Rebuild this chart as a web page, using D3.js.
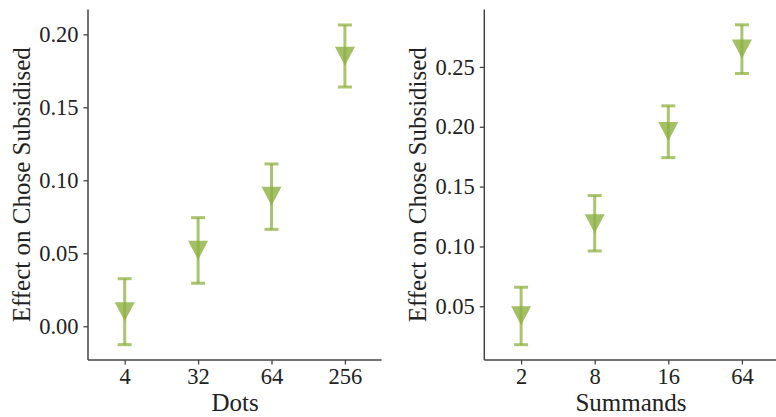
<!DOCTYPE html>
<html>
<head>
<meta charset="utf-8">
<script src="https://cdn.jsdelivr.net/npm/d3@7"></script>
<style>
  body { margin: 0; background: #fff; }
  .axis text { font-family: "Liberation Serif", serif; font-size: 22.5px; fill: #222; }
  .axis line, .axis path { stroke: #444; stroke-width: 1.3; }
  .lab { font-family: "Liberation Serif", serif; font-size: 25px; fill: #222; }
</style>
</head>
<body>
<div id="chart"></div>
<script>
// data
var dotsCats = ["4", "32", "64", "256"];
var dotsMean = [0.010, 0.052, 0.089, 0.185];
var dotsLo   = [-0.0126, 0.0295, 0.0664, 0.1639];
var dotsHi   = [0.0326, 0.0744, 0.1112, 0.2064];
var dotsTicks = [0.00, 0.05, 0.10, 0.15, 0.20];

var sumCats = ["2", "8", "16", "64"];
var sumMean = [0.042, 0.119, 0.196, 0.265];
var sumLo   = [0.0179, 0.0962, 0.1742, 0.2445];
var sumHi   = [0.0659, 0.1425, 0.2175, 0.2852];
var sumTicks = [0.05, 0.10, 0.15, 0.20, 0.25];

var W = 776, H = 417;
var yTop = 9.5, yBottom = 360;
var barColor = "#8db040";

var svg = d3.select("#chart").append("svg")
    .attr("width", W)
    .attr("height", H);

var panels = [
  {cats: dotsCats, mean: dotsMean, lo: dotsLo, hi: dotsHi, ticks: dotsTicks,
   ydom: [-0.0231, 0.217], x0: 88, x1: 381.6, xlab: "Dots", xlabX: 235, ylabX: 30},
  {cats: sumCats, mean: sumMean, lo: sumLo, hi: sumHi, ticks: sumTicks,
   ydom: [0.0051, 0.298], x0: 484.3, x1: 778.7, xlab: "Summands", xlabX: 631, ylabX: 426}
];

panels.forEach(function(p) {
  var x = d3.scaleLinear().domain([-0.5, 3.5]).range([p.x0, p.x1]);
  var y = d3.scaleLinear().domain(p.ydom).range([yBottom, yTop]);
  var g = svg.append("g");

  var rows = p.cats.map(function(c, i) {
    return {i: i, cat: c, mean: p.mean[i], lo: p.lo[i], hi: p.hi[i]};
  });

  // x axis
  var xa = g.append("g")
    .attr("class", "axis")
    .attr("transform", "translate(0," + yBottom + ")")
    .call(d3.axisBottom(x)
      .tickValues([0, 1, 2, 3])
      .tickFormat(function(d) { return p.cats[d]; })
      .tickSize(4.5).tickSizeOuter(0).tickPadding(4));
  xa.select(".domain").remove();

  // y axis
  var ya = g.append("g")
    .attr("class", "axis")
    .attr("transform", "translate(" + p.x0 + ",0)")
    .call(d3.axisLeft(y)
      .tickValues(p.ticks)
      .tickFormat(d3.format(".2f"))
      .tickSize(4.5).tickSizeOuter(0).tickPadding(5));
  ya.select(".domain").remove();

  // spines (left and bottom only)
  g.append("line")
    .attr("x1", p.x0).attr("x2", p.x0)
    .attr("y1", yTop).attr("y2", yBottom)
    .attr("stroke", "#444").attr("stroke-width", 1.5);
  g.append("line")
    .attr("x1", p.x0).attr("x2", p.x1)
    .attr("y1", yBottom).attr("y2", yBottom)
    .attr("stroke", "#444").attr("stroke-width", 1.5);

  // error bars
  var eb = g.selectAll(".eb").data(rows).enter().append("g")
    .attr("class", "eb")
    .attr("stroke", barColor)
    .attr("stroke-opacity", 0.75)
    .attr("stroke-width", 3);
  eb.append("line")
    .attr("x1", function(d) { return x(d.i); })
    .attr("x2", function(d) { return x(d.i); })
    .attr("y1", function(d) { return y(d.lo); })
    .attr("y2", function(d) { return y(d.hi); });
  eb.append("line")
    .attr("x1", function(d) { return x(d.i) - 7; })
    .attr("x2", function(d) { return x(d.i) + 7; })
    .attr("y1", function(d) { return y(d.lo); })
    .attr("y2", function(d) { return y(d.lo); });
  eb.append("line")
    .attr("x1", function(d) { return x(d.i) - 7; })
    .attr("x2", function(d) { return x(d.i) + 7; })
    .attr("y1", function(d) { return y(d.hi); })
    .attr("y2", function(d) { return y(d.hi); });

  // triangle-down markers
  g.selectAll(".mk").data(rows).enter().append("path")
    .attr("class", "mk")
    .attr("d", function(d) {
      var cx = x(d.i), cy = y(d.mean);
      return "M" + (cx - 10) + "," + (cy - 9.5) +
             "L" + (cx + 10) + "," + (cy - 9.5) +
             "L" + cx + "," + (cy + 9.5) + "Z";
    })
    .attr("fill", barColor)
    .attr("fill-opacity", 0.8);

  // axis labels
  g.append("text")
    .attr("class", "lab")
    .attr("x", p.xlabX)
    .attr("y", 411)
    .attr("text-anchor", "middle")
    .text(p.xlab);
  g.append("text")
    .attr("class", "lab")
    .attr("transform", "translate(" + p.ylabX + "," + ((yTop + yBottom) / 2) + ") rotate(-90)")
    .attr("text-anchor", "middle")
    .text("Effect on Chose Subsidised");
});
</script>
</body>
</html>
